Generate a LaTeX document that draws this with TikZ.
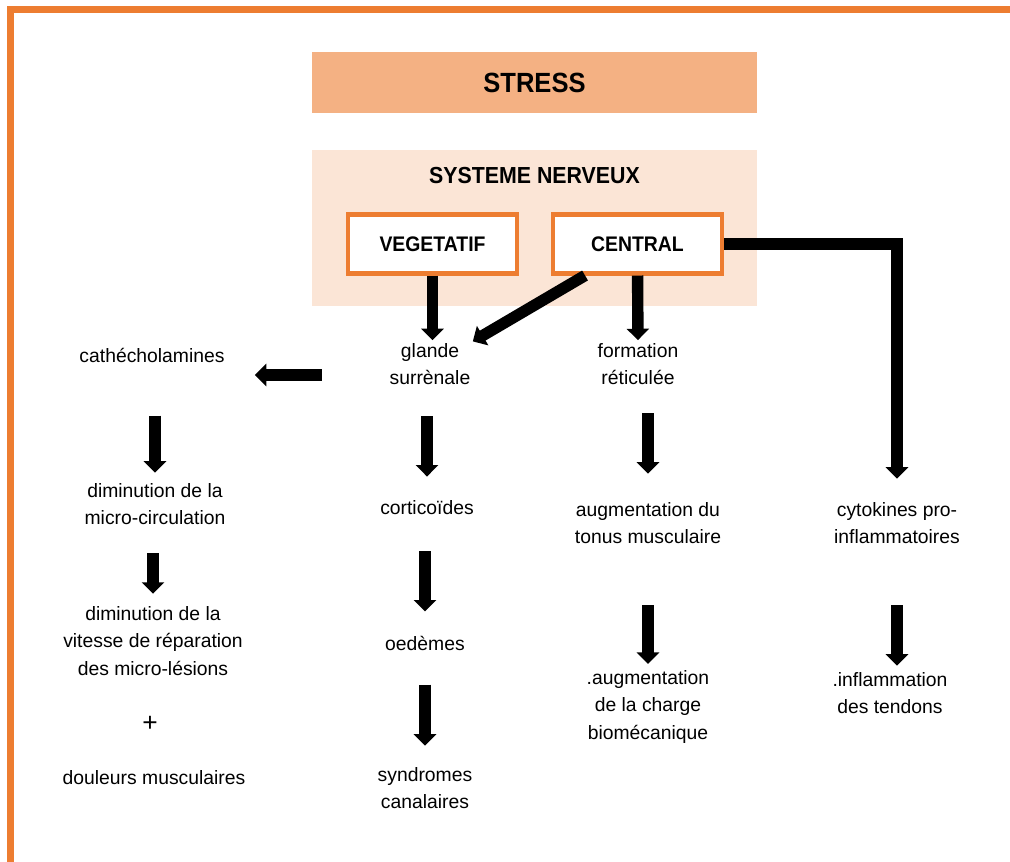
\documentclass[tikz,border=0pt]{standalone}
\usepackage{fontspec}
\setmainfont{Liberation Sans}
\newfontfamily\headfont[FakeStretch=0.92]{Liberation Sans}
\definecolor{FrameOrange}{RGB}{237,125,49}
\definecolor{StressFill}{RGB}{244,177,131}
\definecolor{NerfFill}{RGB}{251,229,214}
\usetikzlibrary{arrows.meta, calc}

\begin{document}
\begin{tikzpicture}[
      fleche/.style={line width=6.5pt, -{Triangle[width=12.5pt,length=6.5pt]}},
      texte/.style={align=center, inner sep=0pt,
                    font=\fontsize{11}{15.8}\selectfont},
      systeme/.style={draw=FrameOrange, line width=2.3pt, fill=white,
                      minimum width=3.38cm, minimum height=1.18cm,
                      font=\headfont\bfseries\fontsize{12}{14}\selectfont}
    ]
      \useasboundingbox (0,0) rectangle (20.2,-17.24);
      % cadre orange
      \draw[FrameOrange, line width=0.14cm] (0.21,-17.24) -- (0.21,-0.19) -- (20.2,-0.19);

      \node[fill=StressFill, minimum width=8.9cm, minimum height=1.22cm,
            font=\headfont\bfseries\fontsize{15.8}{18}\selectfont] (stress) at (10.69,-1.65) {STRESS};
      \node[fill=NerfFill, minimum width=8.9cm, minimum height=3.12cm] (nerf) at (10.69,-4.56) {};
      \node[font=\headfont\bfseries\fontsize{13.2}{15}\selectfont] (titre) at (10.69,-3.52) {SYSTEME NERVEUX};
      \node[systeme] (veg) at (8.65,-4.88) {VEGETATIF};
      \node[systeme] (central) at (12.75,-4.88) {CENTRAL};

      \node[texte] (cath)      at (3.04,-7.1)   {cathécholamines};
      \node[texte] (glande)    at (8.6,-7.28)   {glande\\surrènale};
      \node[texte] (formation) at (12.76,-7.28) {formation\\réticulée};
      \node[texte] (dim1)      at (3.1,-10.08)  {diminution de la\\micro-circulation};
      \node[texte] (cortico)   at (8.54,-10.16) {corticoïdes};
      \node[texte] (tonus)     at (12.96,-10.46) {augmentation du\\tonus musculaire};
      \node[texte] (cyto)      at (17.94,-10.46) {cytokines pro-\\inflammatoires};
      \node[texte] (dim2)      at (3.06,-12.82) {diminution de la\\vitesse de réparation\\des micro-lésions};
      \node[texte] (oedemes)   at (8.5,-12.86)  {oedèmes};
      \node[texte] (charge)    at (12.96,-14.14) {.augmentation\\de la charge\\biomécanique};
      \node[texte] (inflam)    at (17.8,-13.86) {.inflammation\\des tendons};
      \node[texte, font=\fontsize{15}{18}\selectfont] (plus) at (3.0,-14.48) {+};
      \node[texte] (douleurs)  at (3.08,-15.56) {douleurs musculaires};
      \node[texte] (syndromes) at (8.5,-15.76)  {syndromes\\canalaires};

      % fleches
      \draw[fleche, shorten >=0.05cm] (veg) -- (veg |- glande.north);
      \draw[fleche, shorten >=0.05cm] (central.211) -- (glande.north east);
      \draw[fleche, shorten >=0.05cm] (central) -- (formation);
      \draw[fleche, shorten >=0.46cm] (central.east) -| (cyto.north);
      \draw[fleche, shorten <=1.35cm, shorten >=0.6cm]
            ($(glande.west)+(0,-0.22)$) -- ($(glande.west -| cath.east)+(0,-0.22)$);
      \draw[fleche, shorten <=1.06cm, shorten >=0.2cm] (dim1.north |- cath.south) -- (dim1.north);
      \draw[fleche, shorten <=0.56cm, shorten >=0.24cm] (dim2.north |- dim1.south) -- (dim2.north);
      \draw[fleche, shorten <=0.62cm, shorten >=0.48cm] (cortico.north |- glande.south) -- (cortico.north);
      \draw[fleche, shorten <=0.72cm, shorten >=0.48cm] (oedemes.north |- cortico.south) -- (oedemes.north);
      \draw[fleche, shorten <=0.68cm, shorten >=0.42cm] (oedemes.south) -- (syndromes.north);
      \draw[fleche, shorten <=0.56cm, shorten >=0.56cm] (tonus.north |- formation.south) -- (tonus.north);
      \draw[fleche, shorten <=1.22cm, shorten >=0.12cm] (tonus.south) -- (charge.north);
      \draw[fleche, shorten <=1.22cm, shorten >=0.12cm] (cyto.south) -- (cyto.south |- inflam.north);
    \end{tikzpicture}
\end{document}
